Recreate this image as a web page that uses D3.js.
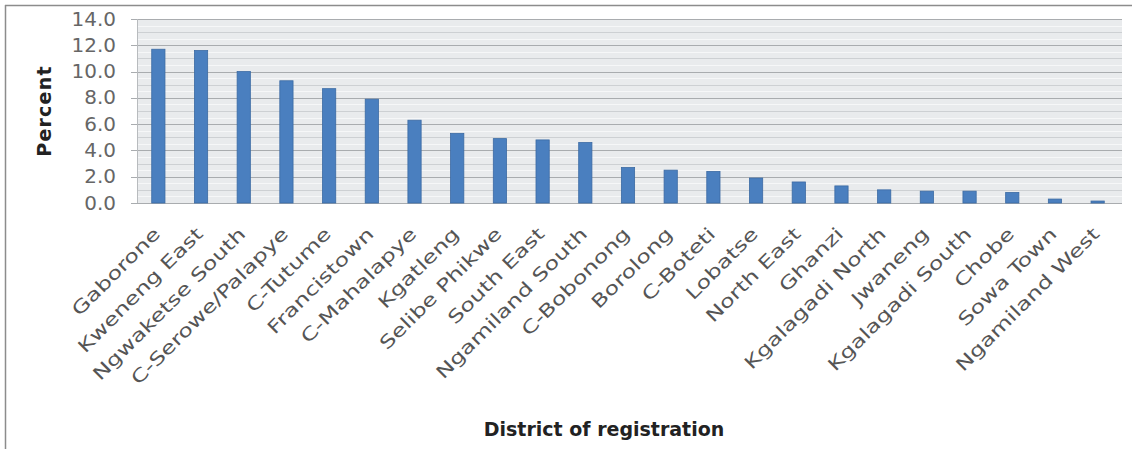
<!DOCTYPE html>
<html>
<head>
<meta charset="utf-8">
<script src="https://cdn.jsdelivr.net/npm/d3@7"></script>
<style>
html,body{margin:0;padding:0;background:#fff;}
svg{display:block;}
text{font-family:"DejaVu Sans",sans-serif;}
</style>
</head>
<body>
<svg id="chart" width="1132" height="449"></svg>
<script>
const categories = ["Gaborone","Kweneng East","Ngwaketse South","C-Serowe/Palapye","C-Tutume","Francistown","C-Mahalapye","Kgatleng","Selibe Phikwe","South East","Ngamiland South","C-Bobonong","Borolong","C-Boteti","Lobatse","North East","Ghanzi","Kgalagadi North","Jwaneng","Kgalagadi South","Chobe","Sowa Town","Ngamiland West"];
const values = [11.7,11.6,10.0,9.3,8.7,7.9,6.3,5.3,4.9,4.8,4.6,2.7,2.5,2.4,1.9,1.6,1.3,1.0,0.9,0.9,0.8,0.3,0.15];
const yTicks = [0,2,4,6,8,10,12,14];
const yTitle = "Percent";
const xTitle = "District of registration";

(function(){
const svg = d3.select("#chart");
const pL = 137, pR = 1119, pT = 19, pB = 203;

// frame
svg.append("line").attr("x1",5.5).attr("x2",5.5).attr("y1",5).attr("y2",449).attr("stroke","#8c8c8c").attr("stroke-width",1.5);
svg.append("line").attr("x1",5).attr("x2",1132).attr("y1",5.5).attr("y2",5.5).attr("stroke","#8c8c8c").attr("stroke-width",1.5);

const x = d3.scaleBand().domain(categories).range([pL,pR]).paddingInner(0.69).paddingOuter(0.345);
const y = d3.scaleLinear().domain([0,14]).range([pB,pT]);

// plot background
svg.append("rect").attr("x",pL).attr("y",pT).attr("width",1122-pL).attr("height",pB-pT).attr("fill","#e9ebed");
// minor grid
const minor = d3.range(0,14.01,0.5);
svg.append("g").selectAll("line").data(minor).join("line")
  .attr("x1",pL).attr("x2",1122)
  .attr("y1",d=>Math.round(y(d))+0.5).attr("y2",d=>Math.round(y(d))+0.5)
  .attr("stroke",(d,i)=> i%2 ? "#f6f7f8" : "#cdd0d3").attr("stroke-width",1);
// major grid
svg.append("g").selectAll("line").data(yTicks).join("line")
  .attr("x1",131).attr("x2",1122)
  .attr("y1",d=>Math.round(y(d))+0.5).attr("y2",d=>Math.round(y(d))+0.5)
  .attr("stroke","#a9acaf").attr("stroke-width",1.2);
// y axis line
svg.append("line").attr("x1",pL+0.5).attr("x2",pL+0.5).attr("y1",pT).attr("y2",pB).attr("stroke","#b8bbbe");

// bars
svg.append("g").selectAll("rect").data(values).join("rect")
  .attr("x",(d,i)=>x(categories[i]))
  .attr("width",x.bandwidth())
  .attr("y",d=>y(d))
  .attr("height",d=>y(0)-y(d))
  .attr("fill","#4a7fbf").attr("stroke","#3b6aa3").attr("stroke-width",0.8);

// y tick labels
const yAxis = d3.axisLeft(y).tickValues(yTicks).tickFormat(d3.format(".1f")).tickSize(0).tickPadding(0);
const ya = svg.append("g").attr("transform","translate(116,0)").call(yAxis);
ya.select(".domain").remove();
ya.selectAll("text").attr("font-size",19).attr("fill","#666").attr("font-family","DejaVu Sans, sans-serif")
  .attr("transform","scale(1.05,1)");

// x labels
const xAxis = d3.axisBottom(x).tickSize(0).tickPadding(0);
const xa = svg.append("g").attr("transform","translate(0,"+pB+")").call(xAxis);
xa.select(".domain").remove();
xa.selectAll("text")
  .attr("font-size",18).attr("fill","#555").attr("font-family","DejaVu Sans, sans-serif")
  .attr("text-anchor","end").attr("dy",0).attr("y",0)
  .attr("transform","translate(3,32) rotate(-45) scale(1.32,1)");

// titles
svg.append("text").attr("transform","translate(51,111) rotate(-90)").attr("text-anchor","middle")
  .attr("font-size",19).attr("letter-spacing",1.2).attr("font-weight","bold").attr("fill","#222").text(yTitle);
svg.append("text").attr("x",604).attr("y",436).attr("text-anchor","middle")
  .attr("font-size",19).attr("font-weight","bold").attr("fill","#222").text(xTitle);
})();
</script>
</body>
</html>
